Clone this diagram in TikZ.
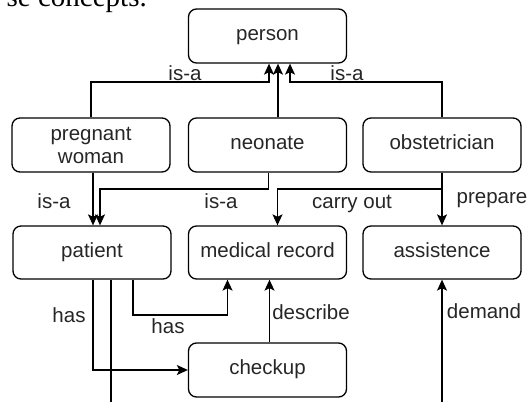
\documentclass[tikz,border=0pt]{standalone}
\usepackage{fontspec}
\setmainfont{Liberation Sans}
\newfontfamily\serifdoc{Liberation Serif}
\usetikzlibrary{arrows.meta}
\begin{document}
\begin{tikzpicture}[x=1pt,y=-1pt,
  box/.style={draw=black, line width=1.3pt, rounded corners=8pt,
    minimum width=158pt, minimum height=54pt, inner sep=0pt,
    font=\fontsize{20.5}{23}\selectfont, text=black!85},
  fixt/.style={text height=14pt, text depth=4.5pt},
  conn/.style={line width=1.3pt, draw=black},
  arr/.style={conn, -{Stealth[length=11pt,width=10pt,inset=2.5pt]}},
  lbl/.style={font=\fontsize{20.5}{23}\selectfont, text=black!85, anchor=base, inner sep=0pt}]
\useasboundingbox (0,0) rectangle (530,402);
% document text cut off at top
\node[anchor=base east, inner sep=0pt, font=\serifdoc\fontsize{29}{32}\selectfont] (doctext) at (147,6.5) {se concepts.};
% boxes
\node[box,fixt] (person) at (267.5,36) {person};
\node[box,align=center] (pw) at (91,145) {pregnant\\woman};
\node[box,fixt] (neonate) at (267.5,145) {neonate};
\node[box,fixt] (obst) at (442,145) {obstetrician};
\node[box,fixt,minimum height=53pt] (patient) at (92,252.5) {patient};
\node[box,fixt,minimum height=53pt] (mr) at (267.5,252.5) {medical record};
\node[box,fixt,minimum height=53pt] (assist) at (442,252.5) {assistence};
\node[box,fixt] (checkup) at (267.5,370) {checkup};
% helper coordinates
\coordinate (ya) at (0,82);
\coordinate (yb) at (0,189);
\coordinate (yc) at (0,315);
\coordinate (b1) at (111,402);
\coordinate (b2) at (442,402);
% person is-a
\draw[arr] (pw.north) -- (pw.north |- ya) -| ([xshift=1.5]person.south);
\draw[arr] ([xshift=10.5]neonate.north) -- ([xshift=10.5]person.south);
\draw[arr] (obst.north) -- (obst.north |- ya) -| ([xshift=22.5]person.south);
% patient is-a
\draw[arr] ([xshift=2]pw.south) -- ([xshift=1]patient.north);
\draw[arr] ([xshift=1]neonate.south) -- ([xshift=1]neonate.south |- yb) -| ([xshift=8]patient.north);
% obstetrician
\draw[arr] (obst.south) -- (obst.south |- yb) -| ([xshift=10]mr.north);
\draw[arr] (obst.south) -- (assist.north);
% patient
\draw[arr] ([xshift=1]patient.south) |- (checkup.west);
\draw[conn] ([xshift=19]patient.south) -- (b1);
\draw[arr] ([xshift=41]patient.south) -- ([xshift=41]patient.south |- yc) -| ([xshift=-40]mr.south);
\draw[arr] ([xshift=2]checkup.north) -- ([xshift=2]mr.south);
\draw[arr] (b2) -- (assist.south);
% labels
\node[lbl] (l1) at (185,80) {is-a};
\node[lbl] (l2) at (347,80) {is-a};
\node[lbl] (l3) at (54,208) {is-a};
\node[lbl] (l4) at (221,208) {is-a};
\node[lbl] (l5) at (352,208) {carry out};
\node[lbl] (l6) at (492,203) {prepare};
\node[lbl] (l7) at (69,322) {has};
\node[lbl] (l8) at (168,333) {has};
\node[lbl] (l9) at (311,319) {describe};
\node[lbl] (l10) at (484,318) {demand};
\end{tikzpicture}
\end{document}
